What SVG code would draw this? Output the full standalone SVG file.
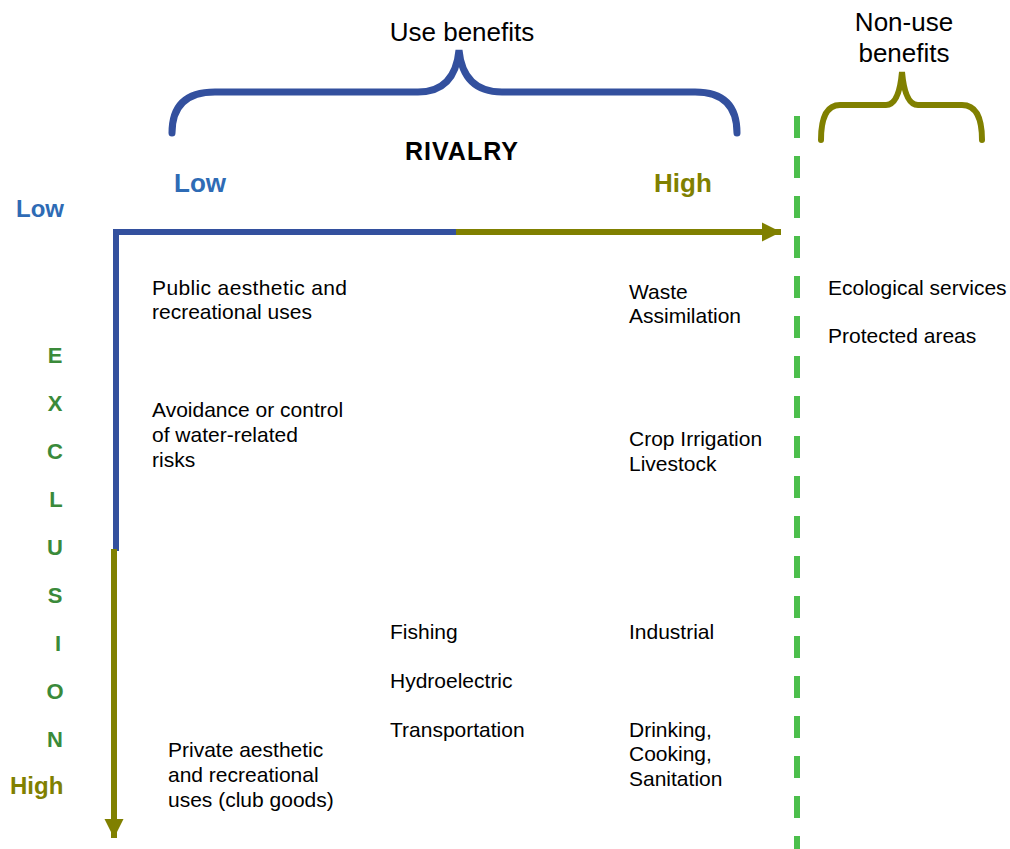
<svg xmlns="http://www.w3.org/2000/svg" width="1010" height="849" viewBox="0 0 1010 849">
<style>
text{font-family:"Liberation Sans",Arial,sans-serif}
.b{font-size:21px;fill:#000}
.h{font-size:26px;fill:#000}
.lo{font-size:26px;font-weight:bold;fill:#2E6BB5}
.hi{font-size:26px;font-weight:bold;fill:#808000}
.ex{font-size:22px;font-weight:bold;fill:#3A8A3A;text-anchor:middle}
.blue{stroke:#33509E;fill:none}
.olive{stroke:#808000;fill:none}
</style>
<defs>
<marker id="ah" viewBox="0 0 10 10" refX="10" refY="5" markerWidth="3.2" markerHeight="3.2" orient="auto" markerUnits="strokeWidth">
<path d="M0,0 L10,5 L0,10 Z" fill="#808000"/>
</marker>
</defs>
<rect width="1010" height="849" fill="#fff"/>
<g id="connectors">
<path class="blue" stroke-width="7" stroke-linecap="round" d="M172,133 Q172,92 215,92 L418,92 Q455,92 459,50 Q463,92 502,92 L695,92 Q737,92 737,133"/>
<path class="olive" stroke-width="6" stroke-linecap="round" d="M821,140 Q821,105 840,105 L886,105 Q899,105 902,72 Q905,105 918,105 L962,105 Q982,105 982,140"/>
<line x1="113" y1="232" x2="458" y2="232" class="blue" stroke-width="6"/>
<line x1="456" y1="232" x2="781" y2="232" class="olive" stroke-width="6" marker-end="url(#ah)"/>
<line x1="116" y1="229" x2="116" y2="551" class="blue" stroke-width="6"/>
<line x1="114" y1="549" x2="114" y2="838" class="olive" stroke-width="6" marker-end="url(#ah)"/>
<line x1="797" y1="116" x2="797" y2="849" stroke="#4CBF4C" stroke-width="6" stroke-dasharray="22,18"/>
</g>
<g id="headers">
<text class="h" x="462" y="41" text-anchor="middle">Use benefits</text>
<text class="h" x="904" y="31" text-anchor="middle">Non-use</text>
<text class="h" x="904" y="62" text-anchor="middle">benefits</text>
<text x="462" y="160" text-anchor="middle" style="font-size:25px;font-weight:bold;fill:#000;letter-spacing:1px">RIVALRY</text>
<text class="lo" x="174" y="192">Low</text>
<text class="hi" x="654" y="192">High</text>
<text class="lo" x="16" y="217" style="font-size:24px">Low</text>
<text class="hi" x="10" y="794" style="font-size:24px">High</text>
</g>
<g id="exclusion">
<text class="ex" x="55" y="363">E</text>
<text class="ex" x="55" y="411">X</text>
<text class="ex" x="55" y="459">C</text>
<text class="ex" x="56" y="507">L</text>
<text class="ex" x="55" y="555">U</text>
<text class="ex" x="55" y="603">S</text>
<text class="ex" x="58" y="651">I</text>
<text class="ex" x="55" y="699">O</text>
<text class="ex" x="55" y="747">N</text>
</g>
<g id="public-aesthetic"><text class="b" x="152" y="295" textLength="195">Public aesthetic and</text><text class="b" x="152" y="319">recreational uses</text></g>
<g id="avoidance"><text class="b" x="152" y="417">Avoidance or control</text><text class="b" x="152" y="442">of water-related</text><text class="b" x="152" y="467">risks</text></g>
<g id="private-aesthetic"><text class="b" x="168" y="757">Private aesthetic</text><text class="b" x="168" y="782">and recreational</text><text class="b" x="168" y="807">uses (club goods)</text></g>
<g id="fishing"><text class="b" x="390" y="639">Fishing</text></g>
<g id="hydroelectric"><text class="b" x="390" y="688">Hydroelectric</text></g>
<g id="transportation"><text class="b" x="390" y="737">Transportation</text></g>
<g id="waste"><text class="b" x="629" y="299">Waste</text><text class="b" x="629" y="323">Assimilation</text></g>
<g id="crop"><text class="b" x="629" y="446">Crop Irrigation</text><text class="b" x="629" y="471">Livestock</text></g>
<g id="industrial"><text class="b" x="629" y="639">Industrial</text></g>
<g id="drinking"><text class="b" x="629" y="737">Drinking,</text><text class="b" x="629" y="761">Cooking,</text><text class="b" x="629" y="786">Sanitation</text></g>
<g id="ecological"><text class="b" x="828" y="295">Ecological services</text></g>
<g id="protected"><text class="b" x="828" y="343">Protected areas</text></g>
</svg>
